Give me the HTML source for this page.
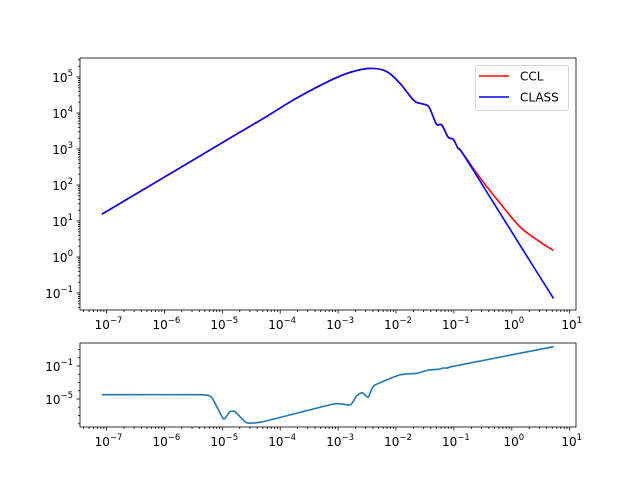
<!DOCTYPE html>
<html><head><meta charset="utf-8"><style>
body{margin:0;background:#fff;}
svg{display:block;font-family:"DejaVu Sans","Liberation Sans",sans-serif;}
</style></head><body>
<svg id="chart" width="640" height="480" xmlns="http://www.w3.org/2000/svg">
<rect width="640" height="480" fill="#fff"/>
<g id="topPanel"></g>
<g id="botPanel"></g>
</svg>
<script>
// main panel data (log10 k, log10 P)
const logK = [-7.08,-6.0,-4.87,-4.29,-3.72,-3.14,-2.79,-2.45,-2.16,-1.93,-1.70,-1.59,-1.47,-1.41,-1.30,-1.21,-1.10,-1.01,-0.93,-0.87];
const logPshared = [1.19,2.22,3.30,3.85,4.41,4.90,5.13,5.24,5.15,4.82,4.36,4.27,4.22,4.1,3.69,3.67,3.33,3.27,3.02,2.93];
const logKtailCCL = [-0.55,-0.20,0.14,0.46,0.72];
const logPtailCCL = [2.2,1.49,0.84,0.45,0.18];
const logKtailCLASS = [-0.55,-0.20,0.25,0.72];
const logPtailCLASS = [2.11,1.21,0.05,-1.15];
// ratio panel data
const logKratio = [-7.08,-5.38,-5.18,-4.98,-4.87,-4.78,-4.58,-4.30,-3.08,-2.79,-2.68,-2.58,-2.48,-2.38,-1.94,-1.64,-1.44,-1.27,-1.18,-1.10,-1.01,0.72];
const logRatio = [-4.48,-4.48,-4.84,-7.42,-6.54,-6.54,-7.87,-7.75,-5.61,-5.73,-4.60,-4.24,-4.79,-3.39,-2.09,-1.88,-1.48,-1.40,-1.24,-1.24,-1.04,1.34];
const xTicks = [-7,-6,-5,-4,-3,-2,-1,0,1];
const yTicksTop = [-1,0,1,2,3,4,5];
const yTicksBot = [-5,-1];

const NS="http://www.w3.org/2000/svg";
const X=v=>106.5+(v+7)*57.9;
const Yt=v=>77+(5-v)*36;
const Yb=v=>366+(-1-v)*8.25;
function mk(p,tag,at){const e=document.createElementNS(NS,tag);for(const k in at)e.setAttribute(k,at[k]);p.appendChild(e);return e;}
function line(p,x1,y1,x2,y2){return mk(p,'line',{x1,y1,x2,y2,stroke:'#000','stroke-width':0.8});}
function smoothPath(pts,t){
  let d='M'+pts[0][0].toFixed(1)+','+pts[0][1].toFixed(1);
  for(let i=0;i<pts.length-1;i++){
    const p0=pts[Math.max(0,i-1)],p1=pts[i],p2=pts[i+1],p3=pts[Math.min(pts.length-1,i+2)];
    const c1=[p1[0]+(p2[0]-p0[0])*t,p1[1]+(p2[1]-p0[1])*t];
    const c2=[p2[0]-(p3[0]-p1[0])*t,p2[1]-(p3[1]-p1[1])*t];
    d+=' C'+c1.map(v=>v.toFixed(1)).join(',')+' '+c2.map(v=>v.toFixed(1)).join(',')+' '+p2[0].toFixed(1)+','+p2[1].toFixed(1);
  }
  return d;
}
function curve(p,xs,ys,yf,col,w,t){const pts=xs.map((v,i)=>[X(v),yf(ys[i])]);
  return mk(p,'path',{d:smoothPath(pts,t),fill:'none',stroke:col,'stroke-width':w,'stroke-linejoin':'round'});}
function powLabel(p,x,y,e,anchor){const t=mk(p,'text',{x,y,'font-size':12,'text-anchor':anchor,fill:'#000'});t.textContent='10';const s=mk(t,'tspan',{dy:-6,'font-size':8.5});s.textContent=e<0?'\u2212'+(-e):String(e);return t;}

function axes(g,y0,y1,yf,yt,minorAll){
  const L=80,R=576;
  for(let d=-8;d<=1;d++){for(let m=1;m<10;m++){const v=d+Math.log10(m);const x=X(v);if(x<L||x>R)continue;
    if(m===1){line(g,x,y1,x,y1+3.5);} else line(g,x,y1,x,y1+2);}}
  xTicks.forEach(v=>{const t=powLabel(g,X(v)+2,y1+19,v,'middle');
    });
  for(let d=-9;d<=6;d++){for(let m=1;m<10;m++){const v=d+Math.log10(m);const y=yf(v);if(y<y0||y>y1)continue;
    if(m===1){ if(yt.includes(d)) line(g,L-3.5,y,L,y); else line(g,L-2,y,L,y);} else if(!minorAll) line(g,L-2,y,L,y);}}
  yt.forEach(v=>{const t=powLabel(g,L-7,yf(v)+5,v,'end');
    });
}
const topG=document.getElementById('topPanel');
axes(topG,58,310,Yt,yTicksTop,false);
const ccl=curve(topG,logK.concat(logKtailCCL),logPshared.concat(logPtailCCL),Yt,'#ff0000',1.6,0.17);


const cls=curve(topG,logK.concat(logKtailCLASS),logPshared.concat(logPtailCLASS),Yt,'#0000ff',1.6,0.17);


mk(topG,'rect',{x:80,y:58,width:496,height:252,fill:'none',stroke:'#000','stroke-width':0.8});
const lg=mk(topG,'g',{});


mk(lg,'rect',{x:475.5,y:65.5,width:93,height:45,rx:2,fill:'#fff',stroke:'#ccc','stroke-width':0.8});
mk(lg,'line',{x1:479,y1:76,x2:509,y2:76,stroke:'#ff0000','stroke-width':1.6});
mk(lg,'line',{x1:479,y1:97,x2:509,y2:97,stroke:'#0000ff','stroke-width':1.6});
const t1=mk(lg,'text',{x:520,y:80.5,'font-size':12});t1.textContent='CCL';


const t2=mk(lg,'text',{x:520,y:101.5,'font-size':12});t2.textContent='CLASS';



const botG=document.getElementById('botPanel');
axes(botG,343,427,Yb,yTicksBot,true);
const rl=curve(botG,logKratio,logRatio,Yb,'#1f77b4',1.6,0.08);


mk(botG,'rect',{x:80,y:343,width:496,height:84,fill:'none',stroke:'#000','stroke-width':0.8});
</script>
</body></html>
